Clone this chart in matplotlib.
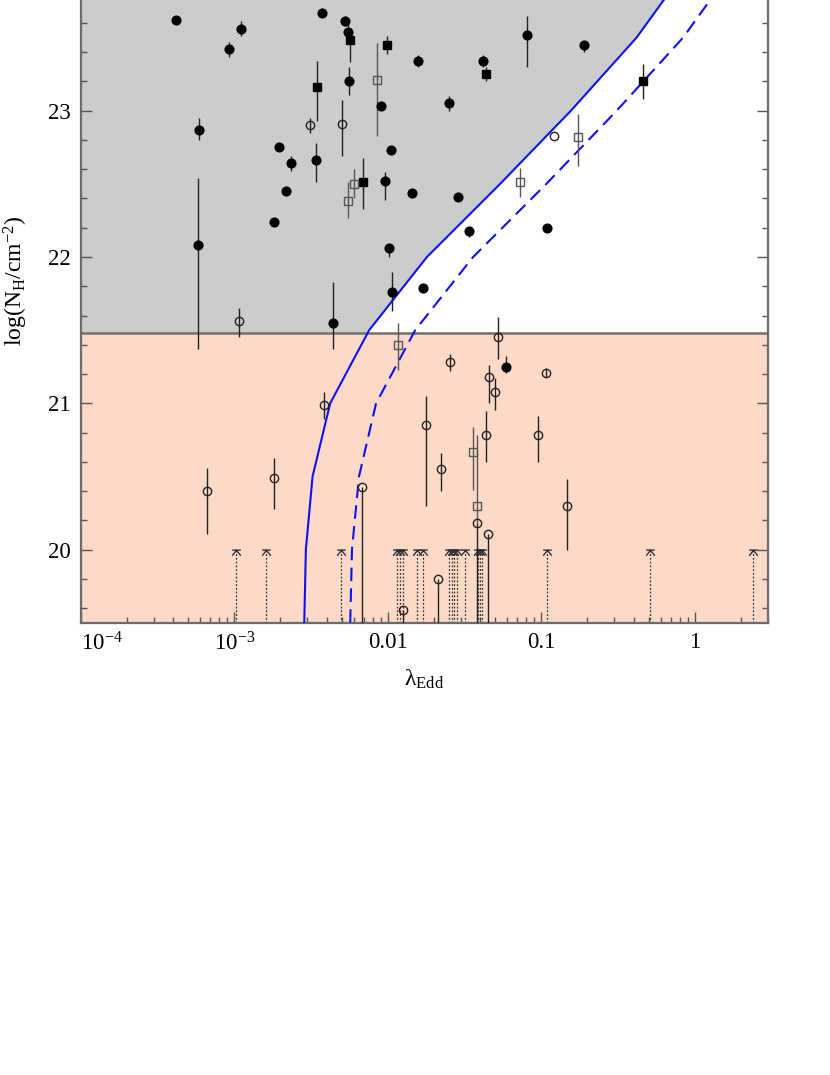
import numpy as np
import matplotlib
matplotlib.use('Agg')
import matplotlib.pyplot as plt
from matplotlib.path import Path
from matplotlib.patches import Polygon
from matplotlib.ticker import LogLocator, MultipleLocator, NullFormatter, FixedLocator

plt.rcParams['font.family'] = ['Liberation Serif', 'DejaVu Serif']
plt.rcParams['mathtext.fontset'] = 'custom'
plt.rcParams['mathtext.rm'] = 'Liberation Serif'
plt.rcParams['mathtext.it'] = 'Liberation Serif:italic'

# ---- data ----
# boundary curves (lambda_Edd at given log NH)
curve_nh = [19.5, 20.0, 20.5, 21.0, 21.5, 22.0, 22.5, 23.0, 23.5, 24.0]
curve_solid = [2.86e-3, 2.93e-3, 3.24e-3, 4.22e-3, 7.57e-3, 1.80e-2, 5.4e-2, 0.156, 0.418, 0.924]
curve_dashed = [5.7e-3, 5.85e-3, 6.5e-3, 8.4e-3, 1.51e-2, 3.6e-2, 0.108, 0.31, 0.84, 1.85]
nh_cut = 21.48

# filled circles: x, y, err-, err+
fc_x = [4.18e-4, 9.2e-4, 1.10e-3, 5.93e-4, 5.78e-4, 1.95e-3, 2.35e-3, 2.19e-3, 1.82e-3,
        3.73e-3, 5.26e-3, 5.50e-3, 5.63e-3, 1.585e-2, 4.18e-2, 8.11e-2, 2.51e-2, 9.10e-3,
        1.047e-2, 3.39e-3, 9.58e-3, 1.45e-2, 2.88e-2, 3.39e-2, 1.026e-2, 1.074e-2, 1.70e-2,
        4.37e-3, 0.190, 0.1094, 5.89e-2]
fc_y = [23.62, 23.42, 23.56, 22.87, 22.08, 22.75, 22.64, 22.45, 22.24,
        23.67, 23.61, 23.54, 23.20, 23.34, 23.34, 23.52, 23.05, 23.03,
        22.73, 22.66, 22.52, 22.44, 22.41, 22.18, 22.06, 21.76, 21.79,
        21.55, 23.45, 22.20, 21.25]
fc_lo = [0.03, 0.05, 0.05, 0.07, 0.71, 0, 0.05, 0, 0,
         0.03, 0.03, 0.05, 0.09, 0.04, 0.04, 0.22, 0.05, 0.02,
         0, 0.15, 0.13, 0, 0, 0.04, 0.06, 0.13, 0,
         0.18, 0.05, 0, 0.04]
fc_hi = [0.03, 0.05, 0.05, 0.08, 0.46, 0, 0.05, 0, 0,
         0.03, 0.04, 0.05, 0.10, 0.04, 0.04, 0.13, 0.05, 0.02,
         0, 0.12, 0.06, 0, 0, 0.02, 0, 0.14, 0,
         0.28, 0.02, 0, 0.07]

# filled squares
fs_x = [5.67e-3, 3.47e-3, 9.82e-3, 4.37e-2, 6.92e-3, 0.457]
fs_y = [23.48, 23.16, 23.45, 23.25, 22.51, 23.20]
fs_lo = [0.15, 0.23, 0.06, 0.05, 0.18, 0.12]
fs_hi = [0.06, 0.18, 0.06, 0.05, 0.17, 0.12]

# open circles
oc_x = [3.10e-3, 5.0e-3, 0.1206, 1.074e-3, 6.61e-4, 1.82e-3, 3.82e-3, 2.56e-2, 5.25e-2,
        4.55e-2, 5.0e-2, 1.77e-2, 4.35e-2, 2.24e-2, 6.75e-3, 3.80e-2, 4.48e-2, 2.14e-2,
        1.265e-2, 0.1074, 9.53e-2, 0.1476]
oc_y = [22.90, 22.91, 22.83, 21.56, 20.40, 20.49, 20.99, 21.28, 21.45,
        21.18, 21.08, 20.85, 20.78, 20.55, 20.43, 20.18, 20.11, 19.80,
        19.59, 21.21, 20.78, 20.30]
oc_lo = [0.05, 0.22, 0, 0.11, 0.29, 0.21, 0.10, 0.06, 0.15,
         0.18, 0.125, 0.55, 0.18, 0.15, 1.0, 1.0, 1.0, 1.0,
         1.0, 0.03, 0.18, 0.30]
oc_hi = [0.05, 0.16, 0, 0.09, 0.16, 0.135, 0.09, 0.06, 0.14,
         0.08, 0.09, 0.20, 0.17, 0.11, 0, 0, 0, 0,
         0, 0.03, 0.13, 0.18]

# open squares
os_x = [8.57e-3, 6.04e-3, 5.50e-3, 7.23e-2, 0.174, 1.174e-2, 3.61e-2, 3.80e-2]
os_y = [23.21, 22.50, 22.38, 22.51, 22.82, 21.40, 20.67, 20.30]
os_lo = [0.38, 0.10, 0.11, 0.10, 0.20, 0.17, 0.26, 0.12]
os_hi = [0.25, 0.10, 0.13, 0.10, 0.16, 0.15, 0.17, 0.48]

# limits drawn as dotted arrows up to logNH = 20
lim_x = [1.02e-3, 1.60e-3, 4.95e-3, 1.146e-2, 1.204e-2, 1.26e-2, 1.56e-2, 1.69e-2,
         2.51e-2, 2.61e-2, 2.70e-2, 2.81e-2, 3.18e-2, 3.88e-2, 3.99e-2, 4.09e-2,
         0.109, 0.509, 2.39]
lim_top = 20.0

xticks = [1e-4, 1e-3, 1e-2, 1e-1, 1]
xticklabels = ['10$^{-4}$', '10$^{-3}$', '0.01', '0.1', '1']
yticks = [20, 21, 22, 23]

# ---- figure ----
fig = plt.figure(figsize=(8.3, 10.75), dpi=100)
ax = fig.add_axes([0.0972, 0.4207, 0.8281, 0.6124])
ax.set_xscale('log')
ax.set_xlim(1e-4, 3)
ax.set_ylim(19.5, 24)

# shaded regions
ax.axhspan(19.5, nh_cut, color='#fddac8', lw=0, zorder=0)
cy = np.array(curve_nh)
cx = np.array(curve_solid)
x_cut = 10 ** np.interp(nh_cut, cy, np.log10(cx))
sel = cy > nh_cut
verts = [(1e-4, nh_cut), (x_cut, nh_cut)] + list(zip(cx[sel], cy[sel])) + [(1e-4, cy[-1])]
ax.add_patch(Polygon(verts, closed=True, facecolor='#cccccc', edgecolor='none', zorder=0))
ax.axhline(nh_cut, color='#707070', lw=1.8, zorder=1)

ax.plot(curve_solid, curve_nh, color='#1010ee', lw=1.5, zorder=3)
ax.plot(curve_dashed, curve_nh, color='#1010ee', lw=1.5, ls=(0, (6.5, 3.5)), zorder=3)

# dotted limit arrows
caret = Path([(-1, 0.1), (1, 0.1), (-1, -1.2), (0, 0), (1, -1.2)],
             [Path.MOVETO, Path.LINETO, Path.MOVETO, Path.LINETO, Path.LINETO])
for xv in lim_x:
    ax.plot([xv, xv], [19.5, lim_top], color='#333333', lw=0.9, ls=(0, (1.5, 1.5)), zorder=2)
ax.plot(lim_x, [lim_top] * len(lim_x), ls='none', marker=caret, ms=7.5,
        mfc='none', mec='#333333', mew=1.0, zorder=2)

ekw = dict(ls='none', elinewidth=1.0, capsize=0, zorder=4)
ax.errorbar(fc_x, fc_y, yerr=[fc_lo, fc_hi], fmt='o', color='#222222', mfc='black',
            mec='black', ms=6.3, **ekw)
ax.errorbar(fs_x, fs_y, yerr=[fs_lo, fs_hi], fmt='s', color='#222222', mfc='black',
            mec='black', ms=6.2, **ekw)
ax.errorbar(oc_x, oc_y, yerr=[oc_lo, oc_hi], fmt='o', color='#222222', mfc='none',
            mec='#222222', mew=1.0, ms=6.0, **ekw)
ax.errorbar(os_x, os_y, yerr=[os_lo, os_hi], fmt='s', color='#555555', mfc='none',
            mec='#555555', mew=1.0, ms=6.0, **ekw)

# axes styling
ax.set_xticks(xticks)
ax.set_xticklabels(xticklabels)
ax.get_xticklabels()[0].set_horizontalalignment('left')
ax.xaxis.set_minor_locator(LogLocator(base=10, subs=np.arange(2, 10)))
ax.xaxis.set_minor_formatter(NullFormatter())
ax.yaxis.set_major_locator(FixedLocator(yticks))
ax.yaxis.set_minor_locator(MultipleLocator(0.2))
ax.tick_params(which='both', direction='in', right=True, top=True,
               labelsize=16.5, color='#555555')
ax.tick_params(which='major', length=8, width=1, pad=7)
ax.tick_params(which='minor', length=4.5, width=1)
for s in ax.spines.values():
    s.set_color('#6b6b6b')
    s.set_linewidth(1.6)

ax.set_xlabel('λ$_{\\rm Edd}$', fontsize=17)
ax.set_ylabel('log(N$_{\\rm H}$/cm$^{-2}$)', fontsize=17)
ax.xaxis.set_label_coords(0.5, -0.068)
ax.yaxis.set_label_coords(-0.074, 0.519)

fig.savefig('out.png', dpi=100)
